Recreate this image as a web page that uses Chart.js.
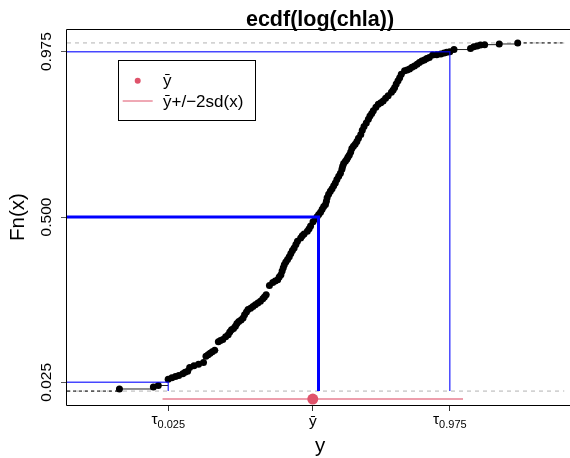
<!DOCTYPE html>
<html>
<head>
<meta charset="utf-8">
<script src="https://cdn.jsdelivr.net/npm/chart.js@4.4.1/dist/chart.umd.min.js"></script>
<style>
  html, body { margin: 0; padding: 0; overflow: hidden; background: #fff; }
</style>
</head>
<body>
<canvas id="myChart" width="570" height="458"></canvas>
<script>
// sorted sample values of log(chla) and their ecdf heights
const ecdfX = [-0.574, -0.122, -0.057, 0.075, 0.124, 0.172, 0.216, 0.269, 0.300, 0.334,
  0.361, 0.418, 0.479, 0.545, 0.578, 0.607, 0.633, 0.662, 0.694, 0.743,
  0.771, 0.802, 0.840, 0.874, 0.895, 0.918, 0.945, 0.970, 0.990, 1.015,
  1.045, 1.072, 1.092, 1.117, 1.138, 1.172, 1.203, 1.235, 1.269, 1.303,
  1.335, 1.356, 1.379, 1.423, 1.467, 1.500, 1.533, 1.553, 1.576, 1.592,
  1.607, 1.621, 1.641, 1.664, 1.687, 1.708, 1.729, 1.752, 1.775, 1.796,
  1.839, 1.860, 1.884, 1.928, 1.951, 1.971, 2.003, 2.037, 2.057, 2.079,
  2.103, 2.125, 2.146, 2.169, 2.181, 2.191, 2.211, 2.234, 2.257, 2.279,
  2.300, 2.321, 2.345, 2.368, 2.388, 2.398, 2.411, 2.434, 2.454, 2.469,
  2.487, 2.505, 2.520, 2.541, 2.564, 2.587, 2.608, 2.639, 2.659, 2.682,
  2.712, 2.740, 2.761, 2.785, 2.806, 2.840, 2.872, 2.906, 2.937, 2.969,
  3.003, 3.047, 3.070, 3.090, 3.111, 3.135, 3.157, 3.178, 3.222, 3.256,
  3.288, 3.320, 3.354, 3.388, 3.419, 3.451, 3.485, 3.517, 3.551, 3.596,
  3.650, 3.705, 3.749, 3.784, 3.824, 3.880, 4.100, 4.144, 4.188, 4.232,
  4.288, 4.482, 4.728];
const ecdfY = [0.006, 0.012, 0.016, 0.034, 0.038, 0.042, 0.045, 0.050, 0.054, 0.057,
  0.068, 0.073, 0.077, 0.082, 0.100, 0.104, 0.109, 0.113, 0.117, 0.142,
  0.145, 0.148, 0.156, 0.162, 0.170, 0.176, 0.180, 0.186, 0.194, 0.200,
  0.204, 0.210, 0.219, 0.227, 0.234, 0.238, 0.243, 0.248, 0.253, 0.258,
  0.265, 0.270, 0.277, 0.303, 0.312, 0.316, 0.320, 0.328, 0.334, 0.345,
  0.354, 0.363, 0.371, 0.378, 0.386, 0.395, 0.404, 0.411, 0.421, 0.430,
  0.440, 0.446, 0.451, 0.459, 0.466, 0.474, 0.486, 0.494, 0.501, 0.507,
  0.514, 0.522, 0.530, 0.536, 0.545, 0.555, 0.565, 0.574, 0.581, 0.590,
  0.598, 0.608, 0.617, 0.626, 0.637, 0.646, 0.654, 0.660, 0.666, 0.672,
  0.678, 0.687, 0.697, 0.703, 0.709, 0.717, 0.726, 0.737, 0.749, 0.760,
  0.770, 0.781, 0.790, 0.797, 0.805, 0.815, 0.824, 0.828, 0.833, 0.841,
  0.848, 0.858, 0.865, 0.872, 0.882, 0.891, 0.900, 0.910, 0.920, 0.922,
  0.925, 0.930, 0.934, 0.939, 0.944, 0.948, 0.951, 0.955, 0.958, 0.965,
  0.966, 0.968, 0.971, 0.973, 0.975, 0.981, 0.984, 0.989, 0.991, 0.994,
  0.995, 0.997, 1.000];

const quantileP = [0.025, 0.5, 0.975];
const quantileX = [0.076, 2.076, 3.824];
const yMean = 2.0;
const ySd = 1.0;
const meanRowY = -0.023;

const yTickVals = [0.025, 0.5, 0.975];
const yTickLabels = ["0.025", "0.500", "0.975"];
const xTickVals = [0.076, 2.0, 3.824];
const xTickMain = ["τ", "ȳ", "τ"];
const xTickSub = ["0.025", "", "0.975"];
const legendLabels = ["ȳ", "ȳ+/−2sd(x)"];

const xMin = -1.272, xMax = 5.351;
const yMin = -0.04, yMax = 1.04;

const FONT = '"Liberation Sans", Arial, Helvetica, sans-serif';
const RED = "#DF536B";
const BLUE_THIN = "rgba(0, 0, 255, 0.72)";
const MID_X = 320; // centre of the (wider) R plot region

// horizontal pieces of the step function (no verticals, like plot.ecdf)
const steps = [];
for (let i = 0; i < ecdfX.length - 1; i++) {
  steps.push({ x: ecdfX[i], y: ecdfY[i] });
  steps.push({ x: ecdfX[i + 1], y: ecdfY[i] });
  steps.push({ x: ecdfX[i + 1], y: null });
}
const points = ecdfX.map((v, i) => ({ x: v, y: ecdfY[i] }));

const quantileLine = (i) => [
  { x: xMin, y: quantileP[i] },
  { x: quantileX[i], y: quantileP[i] },
  { x: quantileX[i], y: 0 },
];

const line = (data, color, width, dash, order) => ({
  data, showLine: true, borderColor: color, borderWidth: width,
  borderDash: dash || [], pointRadius: 0, order,
});

const datasets = [
  line([{ x: xMin, y: 0 }, { x: xMax, y: 0 }], "#b3b3b3", 1, [4, 4], 9),
  line([{ x: xMin, y: 1 }, { x: xMax, y: 1 }], "#b3b3b3", 1, [4, 4], 9),
  line([{ x: xMin, y: 0 }, { x: ecdfX[0], y: 0 }], "#000", 1, [3, 3], 8),
  line([{ x: ecdfX[ecdfX.length - 1], y: 1 }, { x: xMax, y: 1 }], "#000", 1, [3, 3], 8),
  line(steps, "#222", 1, null, 7),
  {
    data: points, showLine: false, pointRadius: 3.5, pointBorderWidth: 0,
    pointBackgroundColor: "#000", order: 6,
  },
  line(quantileLine(0), BLUE_THIN, 1.5, null, 3),
  line(quantileLine(1), "#0000ff", 3, null, 3),
  line(quantileLine(2), BLUE_THIN, 1.5, null, 3),
  line([{ x: yMean - 2 * ySd, y: meanRowY }, { x: yMean + 2 * ySd, y: meanRowY }],
    "rgba(223, 83, 107, 0.75)", 1.5, null, 2),
  {
    data: [{ x: yMean, y: meanRowY }], showLine: false, pointRadius: 5.5,
    pointBorderWidth: 0, pointBackgroundColor: RED, order: 1,
  },
];

const textPlugin = {
  id: "rtext",
  afterDraw(chart) {
    const { ctx, chartArea: a, scales: { x, y } } = chart;
    ctx.save();
    // plot box (right side falls just outside the picture)
    const L = Math.round(a.left) - 0.5, T = Math.round(a.top) + 0.5, B = Math.round(a.bottom) + 0.5;
    ctx.strokeStyle = "#000";
    ctx.lineWidth = 1;
    ctx.beginPath();
    ctx.moveTo(chart.width, T);
    ctx.lineTo(L, T);
    ctx.lineTo(L, B);
    ctx.lineTo(chart.width, B);
    ctx.stroke();

    ctx.fillStyle = "#000";
    // title
    ctx.font = "bold 21.5px " + FONT;
    ctx.textAlign = "center";
    ctx.textBaseline = "alphabetic";
    ctx.fillText("ecdf(log(chla))", MID_X, 25.5);

    // y tick labels, rotated
    ctx.font = "15.5px " + FONT;
    ctx.textBaseline = "middle";
    yTickVals.forEach((v, i) => {
      ctx.save();
      ctx.translate(46.5, y.getPixelForValue(v));
      ctx.rotate(-Math.PI / 2);
      ctx.fillText(yTickLabels[i], 0, 0);
      ctx.restore();
    });

    // y axis title
    ctx.font = "20.5px " + FONT;
    ctx.save();
    ctx.translate(18.5, (a.top + a.bottom) / 2);
    ctx.rotate(-Math.PI / 2);
    ctx.fillText("Fn(x)", 0, 0);
    ctx.restore();

    // x tick labels with subscripts
    ctx.textBaseline = "alphabetic";
    ctx.textAlign = "left";
    xTickVals.forEach((v, i) => {
      const px = x.getPixelForValue(v);
      ctx.font = "15.5px " + FONT;
      const w1 = ctx.measureText(xTickMain[i]).width;
      ctx.font = "11px " + FONT;
      const w2 = ctx.measureText(xTickSub[i]).width;
      const start = px - (w1 + w2) / 2;
      ctx.font = "15.5px " + FONT;
      ctx.fillText(xTickMain[i], start, xTickSub[i] ? 424 : 426);
      if (xTickSub[i]) {
        ctx.font = "11px " + FONT;
        ctx.fillText(xTickSub[i], start + w1, 428);
      }
    });

    // x axis title
    ctx.font = "20.5px " + FONT;
    ctx.textAlign = "center";
    ctx.fillText("y", MID_X, 452);

    // legend
    ctx.strokeStyle = "#000";
    ctx.lineWidth = 1;
    ctx.strokeRect(118.5, 60.5, 137, 60);
    ctx.fillStyle = RED;
    ctx.beginPath();
    ctx.arc(137.7, 80.7, 3, 0, Math.PI * 2);
    ctx.fill();
    ctx.strokeStyle = RED;
    ctx.beginPath();
    ctx.moveTo(122.7, 101);
    ctx.lineTo(152.7, 101);
    ctx.stroke();
    ctx.fillStyle = "#000";
    ctx.textAlign = "left";
    ctx.font = "17px " + FONT;
    ctx.fillText(legendLabels[0], 163, 86);
    ctx.fillText(legendLabels[1], 163, 107);
    ctx.restore();
  },
};

new Chart(document.getElementById("myChart"), {
  type: "scatter",
  data: { datasets },
  options: {
    responsive: false,
    animation: false,
    devicePixelRatio: 1,
    events: [],
    layout: { padding: { top: 29, right: 0, left: 0, bottom: 0 } },
    plugins: { legend: { display: false }, tooltip: { enabled: false } },
    scales: {
      x: {
        type: "linear", min: xMin, max: xMax,
        afterBuildTicks: (s) => { s.ticks = xTickVals.map((v) => ({ value: v })); },
        afterFit: (s) => { s.height = 53; },
        ticks: { display: false },
        border: { display: false },
        grid: { drawOnChartArea: false, drawTicks: true, tickLength: 6, color: "#333" },
      },
      y: {
        type: "linear", min: yMin, max: yMax,
        afterBuildTicks: (s) => { s.ticks = yTickVals.map((v) => ({ value: v })); },
        afterFit: (s) => { s.width = 67; },
        ticks: { display: false },
        border: { display: false },
        grid: { drawOnChartArea: false, drawTicks: true, tickLength: 6, color: "#555" },
      },
    },
  },
  plugins: [textPlugin],
});
</script>
</body>
</html>
